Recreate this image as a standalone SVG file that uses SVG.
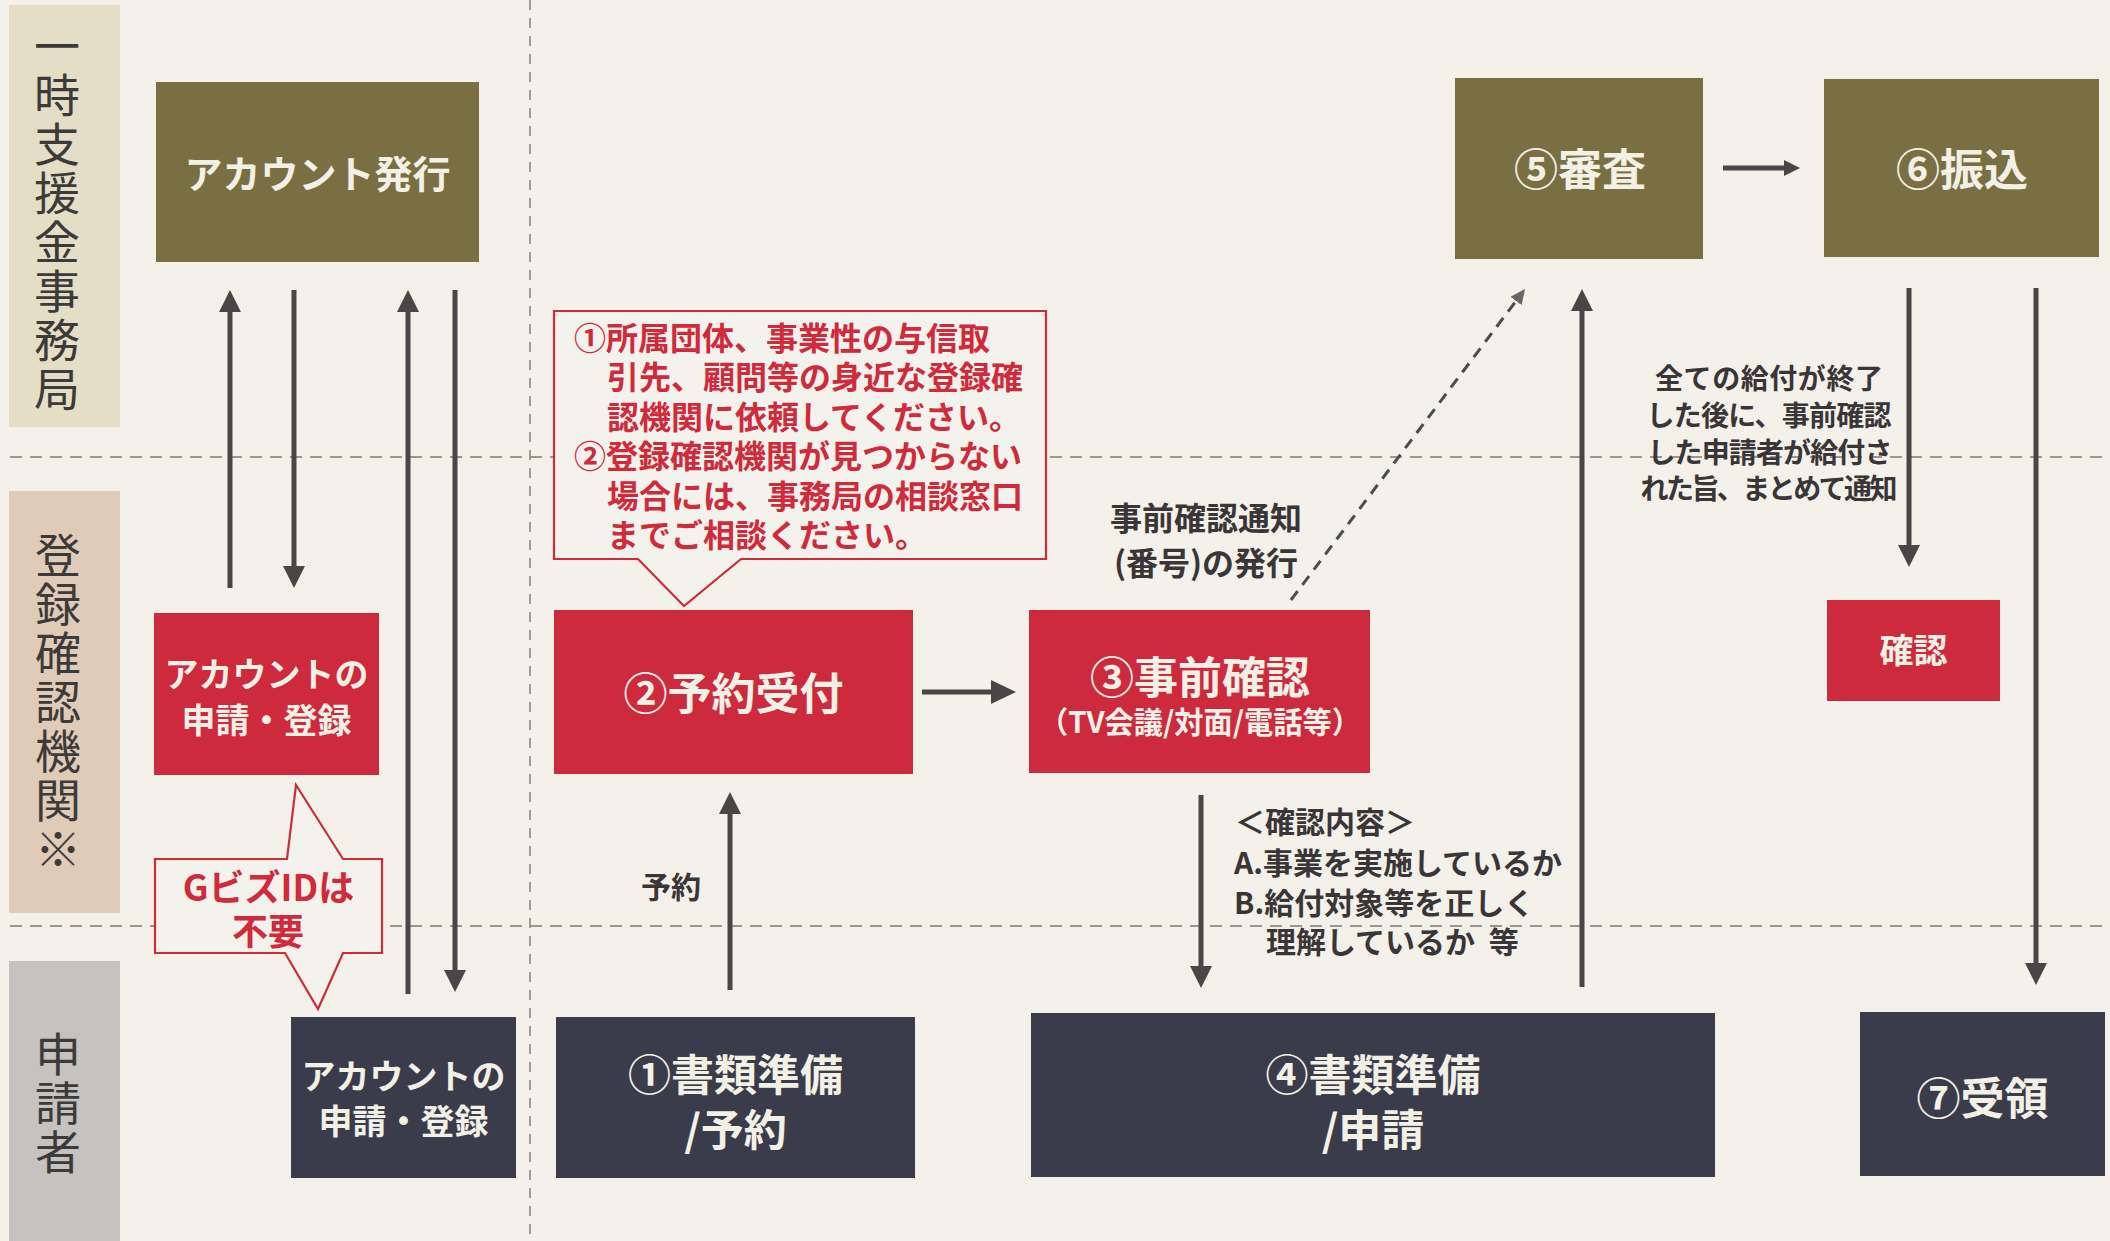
<svg xmlns="http://www.w3.org/2000/svg" width="2110" height="1241" viewBox="0 0 2110 1241">
<style>
  .bg{fill:#f3f1ea}
  .olive{fill:#7a6f42}
  .red{fill:#cd2a3e}
  .navy{fill:#3a3b4b}
  .bt{font-family:"Noto Sans CJK JP","Noto Sans CJK SC",sans-serif;font-weight:700;fill:#f3f0e6;text-anchor:middle}
  .lane{font-family:"Noto Sans CJK JP","Noto Sans CJK SC",sans-serif;font-weight:400;fill:#3d3b3a;font-size:46px;writing-mode:vertical-rl;letter-spacing:3px}
  .note{font-family:"Noto Sans CJK JP","Noto Sans CJK SC",sans-serif;font-weight:700;fill:#3a3536}
  .rt{font-family:"Noto Sans CJK JP","Noto Sans CJK SC",sans-serif;font-weight:700;fill:#d02a3b}
  .sep{stroke:#9b958d;stroke-width:2;stroke-dasharray:12 8;fill:none}
  .vsep{stroke:#8e8983;stroke-width:1.6;stroke-dasharray:10 8;fill:none}
  .arr{stroke:#4b4547;stroke-width:5;fill:none}
  .callout{fill:#f4f2ec;stroke:#d02a3b;stroke-width:2.2}
</style>
<defs>
  <marker id="ha" markerUnits="userSpaceOnUse" markerWidth="22" markerHeight="22" viewBox="0 0 22 22" refX="4" refY="11" orient="auto"><path d="M0,0 L22,11 L0,22 Z" fill="#4b4547"/></marker>
  <marker id="hb" markerUnits="userSpaceOnUse" markerWidth="16" markerHeight="16" viewBox="0 0 16 16" refX="3" refY="8" orient="auto"><path d="M0,0 L16,8 L0,16 Z" fill="#4b4547"/></marker>
  <marker id="hc" markerUnits="userSpaceOnUse" markerWidth="15" markerHeight="14" viewBox="0 0 15 14" refX="3" refY="7" orient="auto"><path d="M0,0 L15,7 L0,14 Z" fill="#6a6566"/></marker>
  <marker id="hd" markerUnits="userSpaceOnUse" markerWidth="25" markerHeight="24" viewBox="0 0 25 24" refX="4" refY="12" orient="auto"><path d="M0,0 L25,12 L0,24 Z" fill="#4b4547"/></marker>
</defs>
<rect class="bg" x="0" y="0" width="2110" height="1241"/>

<g id="lanes">
  <rect x="9" y="5" width="111" height="422" fill="#e4dec6"/>
  <rect x="9" y="491" width="111" height="422" fill="#e0cbb8"/>
  <rect x="9" y="961" width="111" height="280" fill="#c5c2bf"/>
  <text class="lane" x="57" y="23">一時支援金事務局</text>
  <text class="lane" x="58" y="532">登録確認機関※</text>
  <text class="lane" x="58" y="1031">申請者</text>
</g>

<g id="separators">
  <line class="sep" x1="10" y1="457" x2="2105" y2="457"/>
  <line class="sep" x1="10" y1="926" x2="2105" y2="926"/>
  <line class="vsep" x1="530" y1="0" x2="530" y2="1241"/>
</g>

<g id="connectors">
  <line class="arr" x1="230" y1="588" x2="230" y2="308" marker-end="url(#ha)"/>
  <line class="arr" x1="294" y1="290" x2="294" y2="570" marker-end="url(#ha)"/>
  <line class="arr" x1="408" y1="994" x2="408" y2="308" marker-end="url(#ha)"/>
  <line class="arr" x1="455" y1="290" x2="455" y2="974" marker-end="url(#ha)"/>
  <line class="arr" x1="730" y1="990" x2="730" y2="810" marker-end="url(#ha)"/>
  <line class="arr" x1="922" y1="692" x2="995" y2="692" stroke-width="7" marker-end="url(#hd)"/>
  <line class="arr" x1="1201" y1="795" x2="1201" y2="970" marker-end="url(#ha)"/>
  <line class="arr" x1="1582" y1="987" x2="1582" y2="307" marker-end="url(#ha)"/>
  <line x1="1291" y1="600" x2="1517.8" y2="298.6" stroke="#4f4a4b" stroke-width="3" stroke-dasharray="11 8" marker-end="url(#hc)"/>
  <line class="arr" x1="1723" y1="168" x2="1787" y2="168" stroke-width="4" marker-end="url(#hb)"/>
  <line class="arr" x1="1909" y1="288" x2="1909" y2="549" marker-end="url(#ha)"/>
  <line class="arr" x1="2036" y1="288" x2="2036" y2="967" marker-end="url(#ha)"/>
</g>

<g id="label-yoyaku">
  <text class="note" x="671" y="898" font-size="30" text-anchor="middle">予約</text>
</g>
<g id="label-tsuchi">
  <text class="note" x="1206" y="530" font-size="32" text-anchor="middle">事前確認通知</text>
  <text class="note" x="1206" y="575" font-size="32" text-anchor="middle">(番号)の発行</text>
</g>
<g id="label-kakunin-naiyo">
  <text class="note" x="1235" y="833" font-size="30">＜確認内容＞</text>
  <text class="note" x="1234" y="874" font-size="30">A.事業を実施しているか</text>
  <text class="note" x="1234" y="914" font-size="30">B.給付対象等を正しく</text>
  <text class="note" x="1266" y="953" font-size="30" xml:space="preserve">理解しているか  等</text>
</g>
<g id="label-matomete">
  <text class="note" x="1769" y="389" font-size="28" text-anchor="middle" textLength="228" lengthAdjust="spacing">全ての給付が終了</text>
  <text class="note" x="1769" y="426" font-size="28" text-anchor="middle" textLength="245" lengthAdjust="spacing">した後に、事前確認</text>
  <text class="note" x="1770" y="463" font-size="28" text-anchor="middle" textLength="245" lengthAdjust="spacing">した申請者が給付さ</text>
  <text class="note" x="1769" y="499" font-size="28" text-anchor="middle" textLength="257" lengthAdjust="spacing">れた旨、まとめて通知</text>
</g>

<g id="account-hakko">
  <rect class="olive" x="156" y="82" width="323" height="180"/>
  <text class="bt" x="317.5" y="188" font-size="38">アカウント発行</text>
</g>
<g id="toroku-account">
  <rect class="red" x="154" y="613" width="225" height="162"/>
  <text class="bt" x="266.5" y="687" font-size="34">アカウントの</text>
  <text class="bt" x="266.5" y="733" font-size="34">申請・登録</text>
</g>
<g id="gbiz-callout">
  <path class="callout" d="M296,785 L343,859 H382 V953 H343 L318,1009 L285,953 H155 V859 H287 Z"/>
  <text class="rt" x="268.5" y="901" font-size="36" text-anchor="middle">GビズIDは</text>
  <text class="rt" x="268" y="945" font-size="36" text-anchor="middle">不要</text>
</g>
<g id="shinsei-account">
  <rect class="navy" x="291" y="1017" width="225" height="161"/>
  <text class="bt" x="403.5" y="1089" font-size="34">アカウントの</text>
  <text class="bt" x="403.5" y="1134" font-size="34">申請・登録</text>
</g>
<g id="note-callout">
  <path class="callout" d="M554,311 H1046 V559 H741 L684,606 L638,559 H554 Z"/>
  <text class="rt" x="574" y="350" font-size="32">①所属団体、事業性の与信取</text>
  <text class="rt" x="607" y="389" font-size="32">引先、顧問等の身近な登録確</text>
  <text class="rt" x="607" y="429" font-size="32">認機関に依頼してください。</text>
  <text class="rt" x="574" y="468" font-size="32">②登録確認機関が見つからない</text>
  <text class="rt" x="607" y="508" font-size="32">場合には、事務局の相談窓口</text>
  <text class="rt" x="607" y="547" font-size="32">までご相談ください。</text>
</g>
<g id="yoyaku-uketsuke">
  <rect class="red" x="554" y="610" width="359" height="164"/>
  <text class="bt" x="733.5" y="710" font-size="44">②予約受付</text>
</g>
<g id="jizen-kakunin">
  <rect class="red" x="1029" y="610" width="341" height="163"/>
  <text class="bt" x="1200" y="694" font-size="44">③事前確認</text>
  <text class="bt" x="1200" y="733" font-size="30" textLength="322" lengthAdjust="spacingAndGlyphs">（TV会議/対面/電話等）</text>
</g>
<g id="shorui-yoyaku">
  <rect class="navy" x="556" y="1017" width="359" height="161"/>
  <text class="bt" x="735.5" y="1091" font-size="43">①書類準備</text>
  <text class="bt" x="735.5" y="1146" font-size="43">/予約</text>
</g>
<g id="shorui-shinsei">
  <rect class="navy" x="1031" y="1013" width="684" height="164"/>
  <text class="bt" x="1373" y="1091" font-size="43">④書類準備</text>
  <text class="bt" x="1373" y="1146" font-size="43">/申請</text>
</g>
<g id="shinsa">
  <rect class="olive" x="1455" y="78" width="248" height="181"/>
  <text class="bt" x="1580" y="186" font-size="44">⑤審査</text>
</g>
<g id="furikomi">
  <rect class="olive" x="1824" y="79" width="275" height="178"/>
  <text class="bt" x="1962" y="186" font-size="44">⑥振込</text>
</g>
<g id="kakunin">
  <rect class="red" x="1827" y="600" width="173" height="101"/>
  <text class="bt" x="1913.5" y="663" font-size="34">確認</text>
</g>
<g id="juryo">
  <rect class="navy" x="1860" y="1012" width="245" height="164"/>
  <text class="bt" x="1982.5" y="1115" font-size="44">⑦受領</text>
</g>
</svg>
